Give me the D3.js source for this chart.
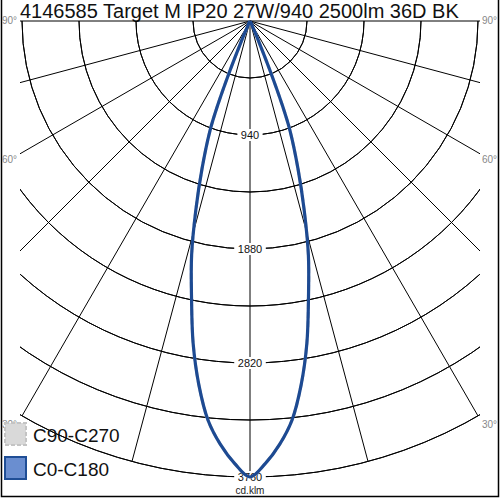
<!DOCTYPE html>
<html lang="en">
<head>
  <meta charset="UTF-8">
  <title>Polar LDC</title>
  <style>
    body { margin: 0; background: #fff; }
    text { font-family: "Liberation Sans", Arial, sans-serif; }
  </style>
</head>
<body>
  <script src="https://d3js.org/d3.v7.min.js"></script>
  <script>
    const title = '4146585 Target M IP20 27W/940 2500lm 36D BK'

    // gamma angles (deg) and intensities (cd/klm), half curve, mirrored for C0-C180
    const gammas = [0, 2, 4, 6, 8, 10, 12, 14, 16, 18, 20, 21, 22, 23, 24, 26, 30, 90]
    const c0c180 = [3760, 3650, 3500, 3310, 3030, 2700, 2320, 1990, 1620, 1280, 970, 740, 440, 200, 80, 30, 10, 0]
    const c90c270 = [3760, 3650, 3500, 3310, 3030, 2700, 2320, 1990, 1620, 1280, 970, 740, 440, 200, 80, 30, 10, 0]

    const rings = [470, 940, 1410, 1880, 2350, 2820, 3290, 3760]
    const ringLabels = [940, 1880, 2820, 3760]
    const spokes = [-90, -75, -60, -45, -30, -15, 0, 15, 30, 45, 60, 75, 90]
    const angleLabels = ['90°', '60°', '30°']
    const angleLabelAt = [90, 60, 30]
    const legend = ['C90-C270', 'C0-C180']
    const unit = 'cd.klm'

    const cx = 250
    const cy = 21
    const halfW = 230

    const r = d3.scaleLinear().domain([0, 3760]).range([0, 456])
    const rad = d => d * Math.PI / 180

    const svg = d3.select('body')
      .append('svg')
      .attr('width', 500)
      .attr('height', 500)

    svg.append('defs')
      .append('clipPath')
      .attr('id', 'frame')
      .append('rect')
      .attr('x', -halfW)
      .attr('y', -1)
      .attr('width', halfW * 2)
      .attr('height', 480)

    // outer border
    svg.append('path')
      .attr('d', 'M1.5,0 V496.5 H498.5 V0')
      .attr('fill', 'none')
      .attr('stroke', '#000')
      .attr('stroke-width', 1.5)

    svg.append('text')
      .attr('x', 20)
      .attr('y', 17.5)
      .attr('font-size', 20)
      .attr('fill', '#111')
      .text(title)

    const g = svg.append('g').attr('transform', `translate(${cx},${cy})`)
    const grid = g.append('g').attr('clip-path', 'url(#frame)')

    const arc = d3.arc()
      .innerRadius(d => r(d))
      .outerRadius(d => r(d))
      .startAngle(Math.PI / 2)
      .endAngle(Math.PI * 1.5)

    grid.selectAll('path.ring')
      .data(rings)
      .join('path')
      .attr('class', 'ring')
      .attr('d', arc)
      .attr('fill', 'none')
      .attr('stroke', '#000')
      .attr('stroke-width', 1)

    grid.selectAll('line.spoke')
      .data(spokes)
      .join('line')
      .attr('class', 'spoke')
      .attr('x1', 0)
      .attr('y1', 0)
      .attr('x2', d => r(3760) * Math.sin(rad(d)))
      .attr('y2', d => r(3760) * Math.cos(rad(d)))
      .attr('stroke', '#000')
      .attr('stroke-width', 1)

    // ring value labels
    const lab = g.selectAll('g.rl')
      .data(ringLabels)
      .join('g')
      .attr('class', 'rl')
      .attr('transform', d => `translate(0,${r(d)})`)
    lab.append('rect')
      .attr('x', d => -String(d).length * 3.2 - 3)
      .attr('y', -6)
      .attr('width', d => String(d).length * 6.4 + 6)
      .attr('height', 12)
      .attr('fill', '#fff')
    lab.append('text')
      .attr('text-anchor', 'middle')
      .attr('dy', '0.35em')
      .attr('font-size', 11)
      .attr('fill', '#111')
      .text(d => d)

    g.append('text')
      .attr('x', 0)
      .attr('y', 473)
      .attr('text-anchor', 'middle')
      .attr('font-size', 10)
      .attr('fill', '#222')
      .text(unit)

    // angle labels both sides
    angleLabelAt.forEach((a, i) => {
      const y = a === 90 ? 3 : halfW / Math.tan(rad(a)) + 9
      g.append('text')
        .attr('x', -halfW - 18)
        .attr('y', y)
        .attr('font-size', 10)
        .attr('fill', '#888')
        .text(angleLabels[i])
      g.append('text')
        .attr('x', halfW + 2)
        .attr('y', y)
        .attr('font-size', 10)
        .attr('fill', '#888')
        .text(angleLabels[i])
    })

    // curves
    const full = vals => {
      const pts = gammas.map((a, i) => [a, vals[i]])
      const left = pts.slice(1).map(p => [-p[0], p[1]]).reverse()
      return left.concat(pts)
    }
    const line = d3.lineRadial()
      .angle(d => Math.PI - rad(d[0]))
      .radius(d => r(d[1]))
      .curve(d3.curveCatmullRom)

    g.append('path')
      .datum(full(c90c270))
      .attr('d', line)
      .attr('fill', 'none')
      .attr('stroke', '#c8c8c8')
      .attr('stroke-width', 3)
      .attr('stroke-dasharray', '6,3')

    g.append('path')
      .datum(full(c0c180))
      .attr('d', line)
      .attr('fill', 'none')
      .attr('stroke', '#1d4a92')
      .attr('stroke-width', 3.2)

    // legend
    const leg = svg.selectAll('g.leg')
      .data(legend)
      .join('g')
      .attr('class', 'leg')
      .attr('transform', (d, i) => `translate(5,${423 + i * 34})`)
    leg.append('rect')
      .attr('width', 21)
      .attr('height', 22)
      .attr('fill', (d, i) => i ? '#6a8ed0' : '#d9d9d9')
      .attr('stroke', (d, i) => i ? '#1f4e96' : '#c4c4c4')
      .attr('stroke-width', 2)
      .attr('stroke-dasharray', (d, i) => i ? null : '4,2')
    leg.append('text')
      .attr('x', 28)
      .attr('y', 19)
      .attr('font-size', 19)
      .attr('fill', '#111')
      .text(d => d)
  </script>
</body>
</html>
